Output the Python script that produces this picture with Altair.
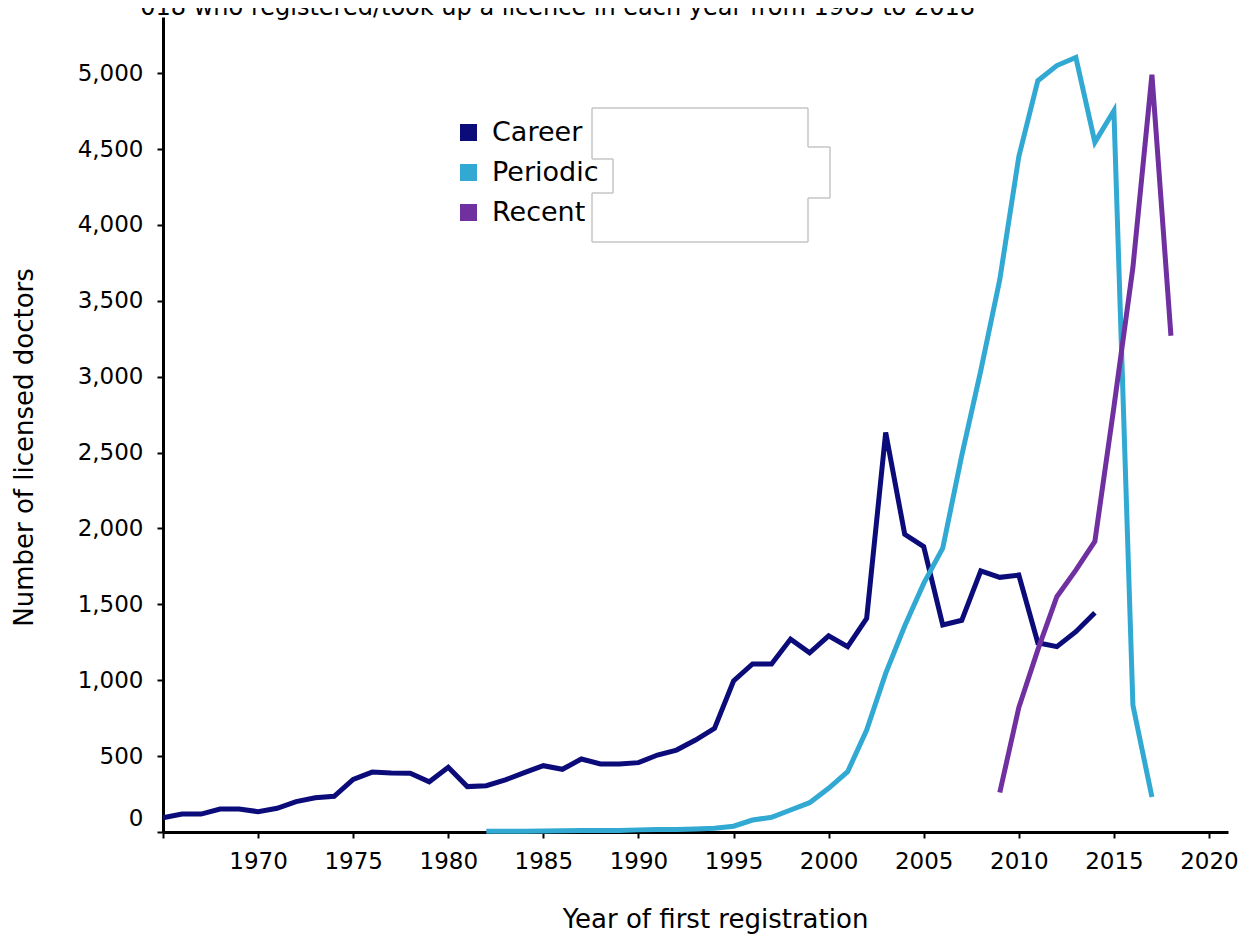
import altair as alt
import pandas as pd

# ---------------- data ----------------
series_names = ["Career", "Periodic", "Recent"]
series_colors = ["#0b0b7a", "#31a9d2", "#7030a0"]

career_years = list(range(1965, 2015))
career_values = [94, 118, 118, 151, 151, 134, 156, 200, 226, 235,
                 347, 395, 389, 387, 331, 426, 299, 305, 343, 391,
                 437, 413, 481, 448, 448, 457, 507, 540, 606, 683,
                 995, 1107, 1107, 1271, 1181, 1293, 1221, 1408, 2632, 1962,
                 1880, 1364, 1395, 1721, 1678, 1693, 1247, 1221, 1320, 1445]

periodic_years = list(range(1982, 2018))
periodic_values = [5, 5, 5, 6, 8, 10, 10, 10, 14, 16,
                   16, 20, 24, 38, 79, 97, 145, 193, 288, 397,
                   672, 1045, 1357, 1638, 1870, 2480, 3040, 3640, 4450, 4950,
                   5050, 5104, 4544, 4752, 835, 230]

recent_years = list(range(2009, 2019))
recent_values = [260, 820, 1200, 1550, 1725, 1915, 2800, 3720, 4990, 3270]

x_ticks = list(range(1965, 2021, 5))
y_ticks = list(range(0, 5001, 500))

title_text = "018 who registered/took up a licence in each year from 1965 to 2018"

rows = []
for name, yrs, vals in zip(series_names,
                           [career_years, periodic_years, recent_years],
                           [career_values, periodic_values, recent_values]):
    for yr, v in zip(yrs, vals):
        rows.append({"year": yr, "value": v, "series": name})
df = pd.DataFrame(rows)

FONT = "DejaVu Sans"
PLOT_W, PLOT_H = 1065, 815
LEFT, TOP = 155, 9

color_scale = alt.Scale(domain=series_names, range=series_colors)

x_enc = alt.X(
    "year:Q",
    scale=alt.Scale(domain=[1965, 2021], nice=False, zero=False),
    axis=alt.Axis(
        values=x_ticks, format="d",
        labelExpr="datum.value == 1965 ? '' : datum.label",
        title="Year of first registration",
        titleX=552, titleY=95, titleAlign="center", titleBaseline="alphabetic",
        titleFontSize=26, titleFontWeight="normal", titleFont=FONT, titleColor="black",
        labelFont=FONT, labelFontSize=23, labelColor="black", labelPadding=12,
        tickSize=6, tickWidth=2, tickColor="black",
        domainColor="black", domainWidth=3, grid=False, labelFlush=False,
    ),
)
y_enc = alt.Y(
    "value:Q",
    scale=alt.Scale(domain=[0, 5370], nice=False),
    axis=alt.Axis(
        values=y_ticks, format=",d",
        title="Number of licensed doctors",
        titleX=-131, titleY=430, titleAngle=270, titleAlign="center",
        titleBaseline="alphabetic",
        titleFontSize=26, titleFontWeight="normal", titleFont=FONT, titleColor="black",
        labelFont=FONT, labelFontSize=23, labelColor="black", labelPadding=14,
        labelOffset={"condition": {"test": "datum.value == 0", "value": -14}, "value": 0},
        tickSize=6, tickWidth=2, tickColor="black",
        domainColor="black", domainWidth=3, grid=False,
    ),
)

lines = alt.Chart(df).mark_line(strokeWidth=5).encode(
    x=x_enc,
    y=y_enc,
    color=alt.Color("series:N", scale=color_scale, legend=None),
    detail="series:N",
)

legend_layer = alt.Chart(pd.DataFrame({"series": series_names})).mark_square(
    size=0, filled=True, opacity=1
).encode(
    color=alt.Color(
        "series:N", scale=color_scale,
        legend=alt.Legend(
            title=None, orient="none", legendX=292, legendY=102,
            symbolType="square", symbolSize=289, symbolStrokeWidth=0,
            symbolOpacity=1,
            labelFont=FONT, labelFontSize=27, labelColor="black",
            labelOffset=10, rowPadding=12, padding=0,
        ),
    )
)

one = pd.DataFrame({"a": [0]})

title_layer = alt.Chart(one).mark_text(
    text=title_text, font=FONT, fontSize=24, align="right", baseline="alphabetic",
    color="black",
).encode(x=alt.value(812), y=alt.value(-2))

# decorative outlined box over the legend (page coordinates -> plot coordinates)
box_pts = [(592, 108), (808, 108), (808, 147), (830, 147), (830, 198), (808, 198),
           (808, 242), (592, 242), (592, 193), (613, 193), (613, 159), (592, 159),
           (592, 108)]
box_layers = []
for (xa, ya), (xb, yb) in zip(box_pts[:-1], box_pts[1:]):
    box_layers.append(
        alt.Chart(one).mark_rule(color="#c6c6c6", strokeWidth=1.5).encode(
            x=alt.value(xa - 163), x2=alt.value(xb - 163),
            y=alt.value(ya - 17), y2=alt.value(yb - 17),
        )
    )

chart = alt.layer(lines, legend_layer, title_layer, *box_layers).resolve_legend(
    color="independent"
).properties(
    width=PLOT_W, height=PLOT_H,
    autosize=alt.AutoSizeParams(type="none"),
    padding={"left": LEFT, "top": TOP, "right": 15, "bottom": 102},
    background="white",
).configure_view(stroke=None)

chart.save("out.html", embed_options={"renderer": "svg", "actions": False})
